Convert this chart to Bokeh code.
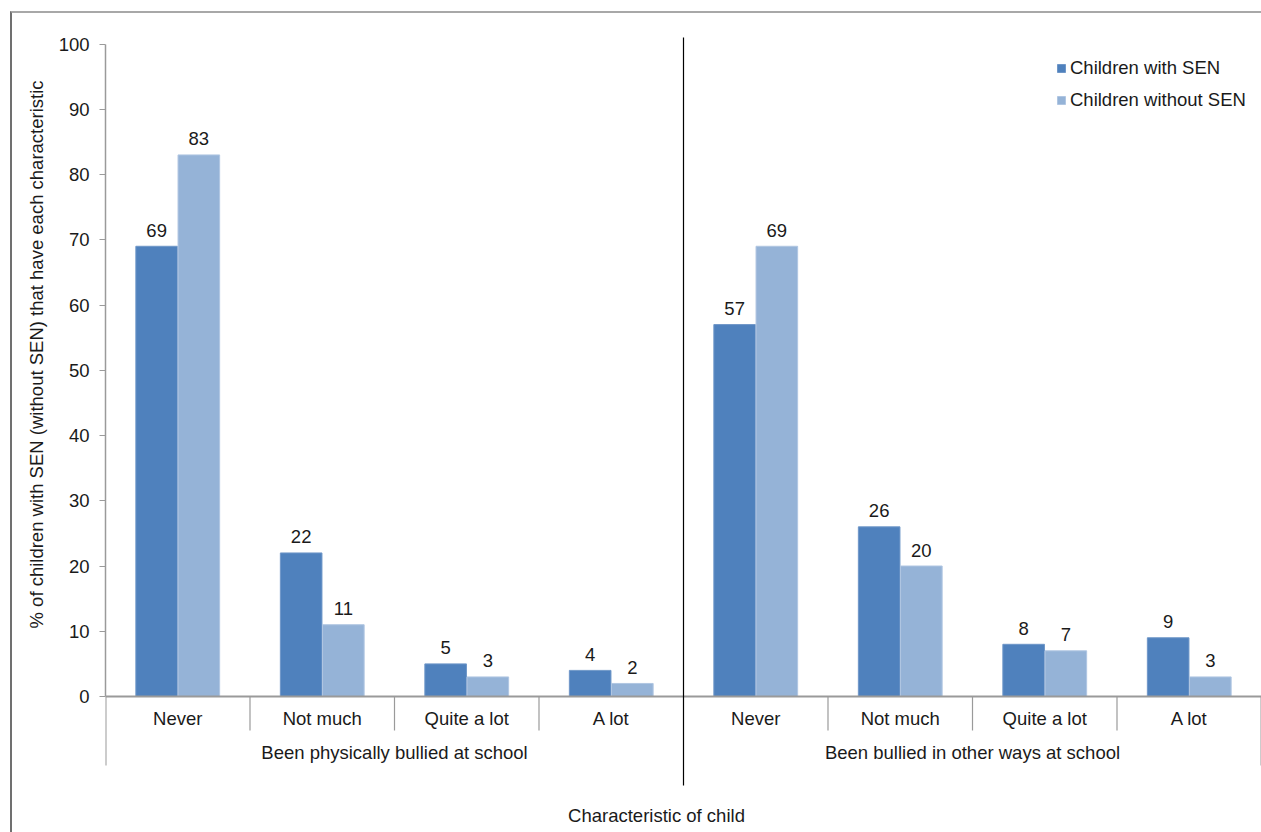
from bokeh.plotting import figure
from bokeh.layouts import column
from bokeh.models import (ColumnDataSource, FixedTicker, Range1d, Legend, LegendItem, Title)
from bokeh.core.properties import value
from bokeh.transform import dodge
from bokeh.embed import file_html
from bokeh.resources import INLINE

# ---- data -------------------------------------------------------------
groups = ["Been physically bullied at school", "Been bullied in other ways at school"]
frequencies = ["Never", "Not much", "Quite a lot", "A lot"]
series_names = ["Children with SEN", "Children without SEN"]
with_sen = [69, 22, 5, 4, 57, 26, 8, 9]
without_sen = [83, 11, 3, 2, 69, 20, 7, 3]
y_ticks = [0, 10, 20, 30, 40, 50, 60, 70, 80, 90, 100]
y_title = "% of children with SEN (without SEN) that have each characteristic"
x_title = "Characteristic of child"

# ---- styling ----------------------------------------------------------
FONT = "Liberation Sans"
FS = "18.5px"
TEXT = "#1a1a1a"
GREY = "#9a9a9a"
DARK_BLUE = "#4f81bd"
LIGHT_BLUE = "#95b3d7"

# the chart sits inside a thin frame (top and left edges) drawn by its container
MARGIN_TOP, MARGIN_LEFT, BORDER = 11, 10, 2
OX, OY = MARGIN_LEFT + BORDER, MARGIN_TOP + BORDER   # canvas origin in the page
PAGE_W, PAGE_H = 1261, 832
W, H = PAGE_W - OX, PAGE_H - OY
LEFT = 105 - OX       # width of the y-axis panel
BASE_PX = 696 - OY    # canvas row of the zero line
TOP_PX = 43.5 - OY    # canvas row of the 100 line
PPU = (BASE_PX - TOP_PX) / 100.0   # pixels per percentage point


def below(px):
    """data value lying px pixels under the zero line"""
    return -px / PPU


def at_row(px):
    """data value drawn at canvas row px"""
    return (BASE_PX - px) / PPU


n_cat = len(groups) * len(frequencies)
cat_x = [i + 0.5 for i in range(n_cat)]
cat_names = frequencies * len(groups)

p = figure(width=W, height=H,
           x_range=Range1d(0, n_cat),
           y_range=Range1d(at_row(H), at_row(0)),
           output_backend="svg", toolbar_location=None,
           x_axis_location=None,
           min_border_left=LEFT, min_border_right=0,
           min_border_top=0, min_border_bottom=0)
p.grid.visible = False
p.outline_line_color = None
p.background_fill_color = "white"
p.border_fill_color = "white"

# ---- y axis -----------------------------------------------------------
ya = p.yaxis[0]
ya.ticker = FixedTicker(ticks=y_ticks, minor_ticks=[])
ya.bounds = (0, 100)
ya.axis_line_color = GREY
ya.axis_line_width = 1.5
ya.major_tick_line_color = GREY
ya.major_tick_out = 6
ya.major_tick_in = 0
ya.minor_tick_line_color = None
ya.major_label_standoff = 10
ya.major_label_text_font = FONT
ya.major_label_text_font_size = FS
ya.major_label_text_color = TEXT

p.add_layout(Title(text=y_title, align="left", offset=204, standoff=17,
                   text_font=FONT, text_font_size=FS,
                   text_font_style="normal", text_color=TEXT), "left")

# ---- bars -------------------------------------------------------------
src = ColumnDataSource(dict(
    x=cat_x,
    with_sen=with_sen,
    without_sen=without_sen,
    with_lbl=[str(v) for v in with_sen],
    without_lbl=[str(v) for v in without_sen],
))

BW = 0.288
OFF = 0.146
r_with = p.vbar(x=dodge("x", -OFF, range=p.x_range), top="with_sen", width=BW,
                source=src, fill_color=DARK_BLUE, line_color="#6f97c8", line_width=1)
r_without = p.vbar(x=dodge("x", OFF, range=p.x_range), top="without_sen", width=BW,
                   source=src, fill_color=LIGHT_BLUE, line_color="#b0c6e2", line_width=1)

for col, lbl, off in (("with_sen", "with_lbl", -OFF), ("without_sen", "without_lbl", OFF)):
    p.text(x=dodge("x", off, range=p.x_range), y=col, text=lbl, source=src,
           text_align="center", text_baseline="middle", y_offset=-16,
           text_font=value(FONT), text_font_size=FS, text_color=TEXT)

# ---- category axis drawn under the zero line --------------------------
p.segment(x0=[0], y0=[0], x1=[n_cat], y1=[0], line_color=GREY, line_width=2)

inner = [i for i in range(1, n_cat) if i % len(frequencies) != 0]
p.segment(x0=inner, y0=[0] * len(inner), x1=inner, y1=[below(34)] * len(inner),
          line_color=GREY, line_width=1.2)

outer = [0, n_cat]
p.segment(x0=outer, y0=[0, 0], x1=outer, y1=[below(69)] * 2,
          line_color=GREY, line_width=2)

mid = len(frequencies)
p.segment(x0=[mid], y0=[at_row(37 - OY)], x1=[mid], y1=[below(89)],
          line_color="black", line_width=1.2)

p.text(x=cat_x, y=[0] * n_cat, text=cat_names, y_offset=22,
       text_align="center", text_baseline="middle",
       text_font=value(FONT), text_font_size=FS, text_color=TEXT)

grp_x = [len(frequencies) * (g + 0.5) for g in range(len(groups))]
p.text(x=grp_x, y=[0] * len(groups), text=groups, y_offset=56,
       text_align="center", text_baseline="middle",
       text_font=value(FONT), text_font_size=FS, text_color=TEXT)

p.text(x=[mid], y=[0], text=[x_title], x_offset=-27, y_offset=119,
       text_align="center", text_baseline="middle",
       text_font=value(FONT), text_font_size=FS, text_color=TEXT)

# ---- legend (location = lower-left corner, measured from the frame's lower left)
legend = Legend(items=[LegendItem(label=series_names[0], renderers=[r_with]),
                       LegendItem(label=series_names[1], renderers=[r_without])],
                location=(951, 721), margin=0, padding=0,
                glyph_width=10, glyph_height=10, label_standoff=4,
                label_height=20, spacing=10,
                label_text_font=FONT, label_text_font_size=FS,
                label_text_color=TEXT,
                background_fill_alpha=0, border_line_alpha=0)
p.add_layout(legend)

# ---- container carrying the chart's top and left frame lines ----------
root = column(p, margin=(MARGIN_TOP, 0, 0, MARGIN_LEFT),
              styles={"border-top": f"{BORDER}px solid #a8a8a8",
                      "border-left": f"{BORDER}px solid #707070"})

open("out.html", "w").write(file_html(root, INLINE))
